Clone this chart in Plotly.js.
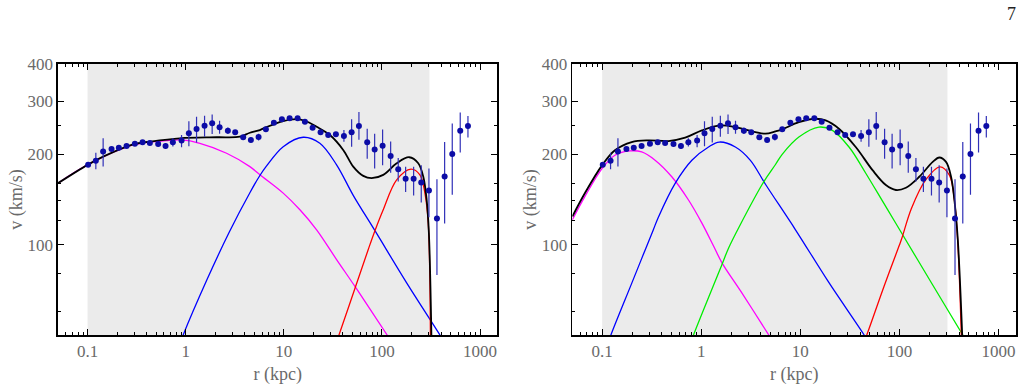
<!DOCTYPE html>
<html>
<head>
<meta charset="utf-8">
<script src="https://cdn.plot.ly/plotly-3.0.1.min.js"></script>
<style>html,body{margin:0;padding:0;background:#fff;}#chart{width:1026px;height:392px;}</style>
</head>
<body>
<div id="chart"></div>
<script>
// ---- observed data (same in both panels) ----
const rData = [0.1014,0.1215,0.1442,0.1756,0.2084,0.2498,0.3035,0.3636,0.4315,0.5244,0.6237,0.7406,0.9078,1.078,1.291,1.558,1.862,2.216,2.692,3.196,3.855,4.619,5.534,6.568,7.925,9.563,11.46,13.83,16.41,19.66,23.71,28.35,33.96,40.99,49.1,58.3,70.8,84.3,101.6,122.7,146.6,174.4,210.4,251.6,301.3,363.6,435.5,520.8,628,752.6];
const vData = [184.5,190.5,204.2,208.4,210.5,213.3,217,219.3,218.3,216.5,213.3,219.3,222.2,235,243,249,253.7,246,239.8,236.8,228,223.4,228.3,242.3,254.9,261.6,263.6,263.6,256.8,245.3,236.8,232,233.2,230.2,236.8,248.5,219.4,207.4,213.8,197.6,178.5,165.7,165.7,161.1,151.4,122.3,168.7,200.6,239.8,248.5];
const errPlus  = [2,12,22,3,3,3,3,3,3,4,5,7,10,23,24,20,18,13,6,4,4,4,6,4,3,3,3,3,3,3,3,3,4,11,25,28,24,27,28,23,16,16,16,23,28,43,51,53,36,20];
const errMinus = [2,12,22,3,3,3,3,3,3,4,5,7,11,22,24,20,20,12,6,4,4,4,6,4,3,3,3,3,3,3,3,3,4,10,25,25,26,28,30,24,16,16,20,23,28,43,51,54,37,21];

// ---- left panel model curves ----
const leftTotalR = [0.05,0.1,0.1442,0.2916,0.4315,0.873,2.065,3.568,4.512,5.706,6.568,9.86,13.5,16.41,21.6,29.5,40.3,51,64.5,78.5,103.1,141.3,189.7,234.5,263.6,285.6,301,321];
const leftTotalV = [160.3,184.5,196.5,216,220.4,226.2,228,229,236,241,246,258.2,262.2,258.8,247.2,232,206.9,182,169.5,166.5,170.8,186.8,195.6,186.8,168.6,141.1,109.4,45];
const leftMagentaR = [0.05,0.1,0.2916,0.638,0.908,1.396,2.612,4.512,5.706,9.86,14.59,21.6,34.5,54,113,125];
const leftMagentaV = [160.3,184.5,214.9,222.2,223.4,217.7,201.7,182,171,148.5,130.7,112.1,89.2,72,50,47.5];
const leftBlueR = [0.9,0.943,1.633,2.776,4.512,5.706,6.677,9.86,15.77,23.3,34.5,51,84.9,178.6,390,420];
const leftBlueV = [48,50,75.9,110,149,170,183,212.1,228,217.7,184.5,146,111.3,74.6,50,48];
const leftRedR = [34,36.5,54,72.4,84.9,103.1,141.3,197.6,243.8,274,296.5,312];
const leftRedV = [47,50,72.7,96.2,111.3,130.7,164.4,178.5,170.8,148.5,118,45];

// ---- right panel model curves ----
const rightTotalR = [0.05,0.0668,0.1,0.1345,0.1985,0.2922,0.4656,0.688,1.015,1.556,2.207,3.518,4.443,5.61,6.557,9.656,14.26,17.99,24.5,36.2,53.5,72.9,92,116.2,158.5,216.6,252.6,295,331.7,358.4,388,435];
const rightTotalV = [124.1,148.3,184.1,206.4,219.8,222.7,221.5,227.3,240.4,249.7,246.5,237.2,234.4,238.5,242.2,256.1,262.8,259.4,243.5,211.6,177.1,158,152.1,154.8,168.4,188.7,195.2,188.7,168.4,140.9,103.9,45];
const rightMagentaR = [0.05,0.0668,0.1,0.1345,0.1908,0.2506,0.3418,0.504,0.743,1.015,1.33,1.618,2.5,4.8,5.3];
const rightMagentaV = [121,144.5,179.5,198.6,205.3,203.7,191.2,168.4,140.9,118,99,87,70,50,47.5];
const rightBlueR = [0.115,0.1225,0.1985,0.26,0.3285,0.369,0.545,0.804,1.184,1.52,2.207,3.131,4.443,8.93,19.44,44,48];
const rightBlueV = [47,50,74.3,92.7,112.2,123.5,160.1,191.2,211.6,219.8,211.6,191,159,112.1,74.7,50,47.5];
const rightGreenR = [0.8,0.835,1.618,1.888,2.423,4.27,5.61,6.557,9.656,15.39,21.04,30.97,45.7,67.5,92.1,216.6,435.8,470];
const rightGreenV = [48,50,85.9,97.5,115,162,185,200,228.4,246.5,240.4,211.6,173,139.6,117.6,73.4,50,48];
const rightRedR = [44,46.8,70.1,99.4,105.9,132,185.3,257,319,358.4,388,425];
const rightRedV = [47.5,50,72.8,99.3,105.2,132,165,181.7,170.5,140.9,101.3,45];

// ---- axes / labels ----
const xTickVals = [0.1,1,10,100,1000];
const xTickText = ['0.1','1','10','100','1000'];
const xMinorVals = [0.06,0.07,0.08,0.09,0.2,0.3,0.4,0.5,0.6,0.7,0.8,0.9,2,3,4,5,6,7,8,9,20,30,40,50,60,70,80,90,200,300,400,500,600,700,800,900];
const yTickVals = [100,200,300,400];
const yTickText = ['100','200','300','400'];
const yMinorVals = [60,80,120,140,160,250];
const bandLo = 0.1, bandHi = 305;
const xTitle = 'r (kpc)', yTitle = 'v (km/s)';
const pageNumber = '7';

const SERIF = '"Liberation Serif", "Times New Roman", serif';
const GREY = '#6a6a6a';

function curve(x, y, color, width, xa, ya) {
  return {x: x, y: y, type: 'scatter', mode: 'lines', xaxis: xa, yaxis: ya,
          line: {color: color, width: width, shape: 'spline', smoothing: 1.0},
          hoverinfo: 'skip', showlegend: false};
}
function dataTrace(xa, ya) {
  return {x: rData, y: vData, type: 'scatter', mode: 'markers', xaxis: xa, yaxis: ya,
          marker: {color: '#0c0ca6', size: 6},
          error_y: {type: 'data', symmetric: false, array: errPlus, arrayminus: errMinus,
                    color: '#3030b8', thickness: 1.2, width: 0},
          showlegend: false};
}

const traces = [
  curve(leftMagentaR, leftMagentaV, '#ff00ff', 1.3, 'x', 'y'),
  curve(leftBlueR, leftBlueV, '#0000ff', 1.3, 'x', 'y'),
  curve(leftRedR, leftRedV, '#ff0000', 1.3, 'x', 'y'),
  curve(leftTotalR, leftTotalV, '#000000', 1.8, 'x', 'y'),
  dataTrace('x', 'y'),
  curve(rightMagentaR, rightMagentaV, '#ff00ff', 1.3, 'x2', 'y2'),
  curve(rightBlueR, rightBlueV, '#0000ff', 1.3, 'x2', 'y2'),
  curve(rightGreenR, rightGreenV, '#00ee00', 1.3, 'x2', 'y2'),
  curve(rightRedR, rightRedV, '#ff0000', 1.3, 'x2', 'y2'),
  curve(rightTotalR, rightTotalV, '#000000', 1.8, 'x2', 'y2'),
  dataTrace('x2', 'y2')
];

function xAxis(domain, anchor) {
  return {type: 'log', domain: domain, anchor: anchor,
    range: [Math.log10(0.05), Math.log10(1500)],
    tickmode: 'array', tickvals: xTickVals, ticktext: xTickText,
    ticks: 'inside', ticklen: 6, tickwidth: 1, tickcolor: '#000',
    minor: {tickmode: 'array', tickvals: xMinorVals, ticks: 'inside', ticklen: 3, tickwidth: 1, tickcolor: '#000', showgrid: false},
    showline: true, linecolor: '#000', linewidth: 1.6, mirror: 'allticks',
    showgrid: false, zeroline: false,
    tickfont: {family: SERIF, size: 17, color: GREY},
    title: {text: xTitle, font: {family: SERIF, size: 18, color: GREY}, standoff: 7},
    automargin: false};
}
function yAxis(anchor) {
  return {type: 'log', domain: [0, 1], anchor: anchor,
    range: [Math.log10(50), Math.log10(400)],
    tickmode: 'array', tickvals: yTickVals, ticktext: yTickText,
    ticks: 'inside', ticklen: 6, tickwidth: 1, tickcolor: '#000',
    minor: {tickmode: 'array', tickvals: yMinorVals, ticks: 'inside', ticklen: 3, tickwidth: 1, tickcolor: '#000', showgrid: false},
    showline: true, linecolor: '#000', linewidth: 1.6, mirror: 'allticks',
    showgrid: false, zeroline: false,
    tickfont: {family: SERIF, size: 17, color: GREY},
    title: {text: yTitle, font: {family: SERIF, size: 18, color: GREY}, standoff: 0},
    automargin: false};
}

const layout = {
  width: 1026, height: 392,
  margin: {l: 58, r: 10, t: 64, b: 57},
  paper_bgcolor: '#ffffff', plot_bgcolor: '#ffffff',
  showlegend: false,
  xaxis: xAxis([0, 0.4586], 'y'),
  yaxis: yAxis('x'),
  xaxis2: xAxis([0.5369, 1], 'y2'),
  yaxis2: yAxis('x2'),
  shapes: [
    {type: 'rect', xref: 'x', yref: 'y domain', x0: bandLo, x1: bandHi, y0: 0, y1: 1,
     fillcolor: '#ebebeb', line: {width: 0}, layer: 'below'},
    {type: 'rect', xref: 'x2', yref: 'y2 domain', x0: bandLo, x1: bandHi, y0: 0, y1: 1,
     fillcolor: '#ebebeb', line: {width: 0}, layer: 'below'}
  ],
  annotations: [
    {text: pageNumber, xref: 'paper', yref: 'paper', x: 0.9958, y: 1.185,
     xanchor: 'center', yanchor: 'middle', showarrow: false,
     font: {family: SERIF, size: 18, color: '#222'}}
  ]
};

Plotly.newPlot('chart', traces, layout, {staticPlot: true, displayModeBar: false});
</script>
</body>
</html>
